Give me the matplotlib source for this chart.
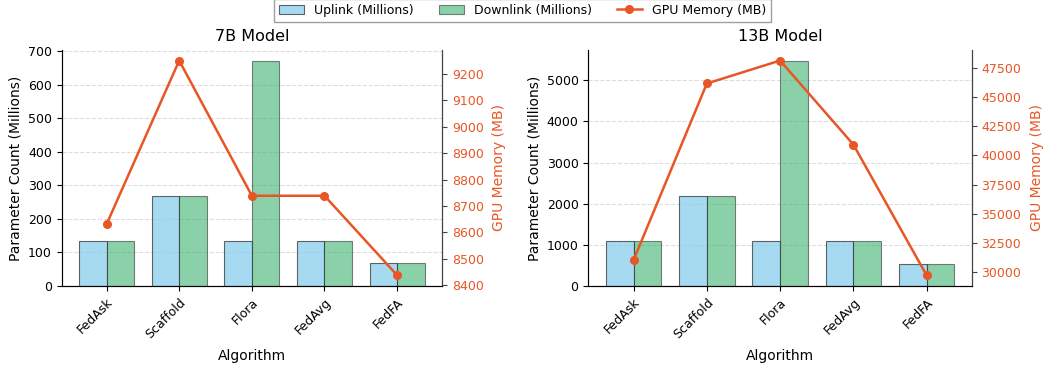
import numpy as np
import matplotlib.pyplot as plt

# Algoritmi confrontati
algorithms = ['FedAsk', 'Scaffold', 'Flora', 'FedAvg', 'FedFA']

# Modello 7B
uplink_7b = [134, 268, 134, 134, 67]
downlink_7b = [134, 268, 670, 134, 67]
gpu_7b = [8631, 9251, 8739, 8739, 8438]

# Modello 13B
uplink_13b = [1093, 2186, 1093, 1093, 546]
downlink_13b = [1093, 2186, 5465, 1093, 546]
gpu_13b = [31030, 46180, 48150, 40940, 29720]

col_up = '#87CEEB'
col_down = '#3CB371'
col_gpu = '#E95625'
col_edge = '#333333'


def pannello(ax, title, up, down, gpu):
    x = np.arange(len(algorithms))
    w = 0.38
    ax.bar(x - w/2, up, w, color=col_up, alpha=0.75, edgecolor=col_edge,
           linewidth=0.8, label='Uplink (Millions)', zorder=2)
    ax.bar(x + w/2, down, w, color=col_down, alpha=0.6, edgecolor=col_edge,
           linewidth=0.8, label='Downlink (Millions)', zorder=2)
    ax.set_xticks(x)
    ax.set_xticklabels(algorithms, rotation=45, ha='right', rotation_mode='anchor')
    ax.set_xlabel('Algorithm', fontsize=10, labelpad=6)
    ax.set_ylabel('Parameter Count (Millions)', fontsize=10)
    ax.set_title(title, fontsize=11.5)
    ax.tick_params(labelsize=9)
    ax.grid(axis='y', linestyle='--', color='#dddddd', linewidth=0.8, zorder=0)
    ax.spines['top'].set_visible(False)
    for s in ('left', 'bottom'):
        ax.spines[s].set_color('#444444')

    ax2 = ax.twinx()
    ax2.plot(x, gpu, '-o', color=col_gpu, lw=1.8, markersize=5.5,
             label='GPU Memory (MB)')
    ax2.set_ylabel('GPU Memory (MB)', color=col_gpu, fontsize=10, labelpad=6)
    ax2.tick_params(axis='y', colors=col_gpu, labelsize=9)
    ax2.tick_params(axis='y', color='#444444')
    ax2.spines['top'].set_visible(False)
    ax2.spines['right'].set_color('#444444')
    return ax2


fig = plt.figure(figsize=(10.45, 3.69), dpi=100)
ax1 = fig.add_axes([0.059, 0.225, 0.364, 0.64])
ax3 = fig.add_axes([0.563, 0.225, 0.367, 0.64])

pannello(ax1, '7B Model', uplink_7b, downlink_7b, gpu_7b)
ax4 = pannello(ax3, '13B Model', uplink_13b, downlink_13b, gpu_13b)

h1, l1 = ax3.get_legend_handles_labels()
h2, l2 = ax4.get_legend_handles_labels()
fig.legend(h1 + h2, l1 + l2, loc='upper center', ncol=3, fontsize=9,
           bbox_to_anchor=(0.5, 1.02), frameon=True, edgecolor='#888888',
           fancybox=False)

fig.savefig('out.png', dpi=100)
